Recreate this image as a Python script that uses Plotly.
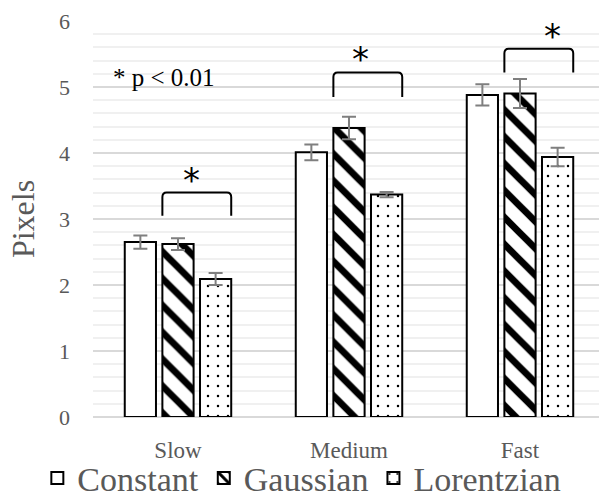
import plotly.graph_objects as go

categories = ["Slow", "Medium", "Fast"]
series_names = ["Constant", "Gaussian", "Lorentzian"]
constant = [2.65, 4.01, 4.88]
gaussian = [2.62, 4.38, 4.90]
lorentzian = [2.09, 3.37, 3.94]
constant_err = [0.10, 0.12, 0.16]
gaussian_err = [0.09, 0.17, 0.22]
lorentzian_err = [0.09, 0.04, 0.14]
bracket_top = [3.40, 5.22, 5.58]
bracket_bottom = [3.05, 4.85, 5.22]
star_dx = [0.08, 0.065, 0.19]
y_ticks = [0, 1, 2, 3, 4, 5, 6]

BARGAP = 0.34
BARGROUPGAP = 0.17
SERIF = "Liberation Serif"
GRAY = "#595959"

xs = list(range(len(categories)))
patterns = [
    dict(shape=""),
    dict(shape="\\", fgcolor="black", bgcolor="white", fgopacity=1, size=19, solidity=0.36, fillmode="replace"),
    dict(shape=".", fgcolor="black", bgcolor="white", fgopacity=1, size=10, solidity=0.05, fillmode="replace"),
]
vals = [constant, gaussian, lorentzian]
errs = [constant_err, gaussian_err, lorentzian_err]

fig = go.Figure()
for name, v, e, p in zip(series_names, vals, errs, patterns):
    fig.add_trace(go.Bar(
        x=xs, y=v, name=name,
        marker=dict(color="white", line=dict(color="black", width=2), pattern=p),
        error_y=dict(type="data", array=e, color="#7f7f7f", thickness=2, width=7),
    ))

# bracket geometry derived from bar layout
slot = (1 - BARGAP) / len(series_names)
half_bar = slot * (1 - BARGROUPGAP) / 2
rx, ry = 0.025, 0.07
for i, x in enumerate(xs):
    x0 = x - half_bar
    x1 = x + slot + half_bar
    yt, yb = bracket_top[i], bracket_bottom[i]
    path = (f"M {x0},{yb} L {x0},{yt-ry} Q {x0},{yt} {x0+rx},{yt} "
            f"L {x1-rx},{yt} Q {x1},{yt} {x1},{yt-ry} L {x1},{yb}")
    fig.add_shape(type="path", path=path, xref="x", yref="y",
                  line=dict(color="black", width=2))
    fig.add_annotation(x=x + star_dx[i], y=yt, xref="x", yref="y",
                       text="*", showarrow=False, yanchor="bottom", yshift=-9,
                       font=dict(family="DejaVu Sans", size=34, color="black"))

fig.add_annotation(x=0.035, y=5.15, xref="paper", yref="y", text="* p < 0.01",
                   showarrow=False, xanchor="left", yanchor="middle",
                   font=dict(family=SERIF, size=25, color="black"))

fig.update_layout(
    width=599, height=497,
    margin=dict(l=93, r=0, t=21, b=80, autoexpand=False),
    barmode="group", bargap=BARGAP, bargroupgap=BARGROUPGAP,
    plot_bgcolor="white", paper_bgcolor="white",
    font=dict(family=SERIF, color=GRAY),
    showlegend=True,
    legend=dict(orientation="h", xref="paper", yref="paper",
                x=-0.11, y=-0.155, xanchor="left", yanchor="middle",
                bgcolor="rgba(0,0,0,0)",
                font=dict(family=SERIF, size=34, color=GRAY),
                itemwidth=30, tracegroupgap=0),
)
fig.update_xaxes(
    tickvals=xs, ticktext=categories, range=[-0.497, 2.462],
    showgrid=False, zeroline=False, showline=False,
    tickfont=dict(family=SERIF, size=23, color=GRAY),
    ticks="", ticklabelstandoff=17,
)
fig.update_yaxes(
    range=[0, 6], tickvals=y_ticks,
    showgrid=True, gridcolor="#d9d9d9", gridwidth=1.5,
    zeroline=True, zerolinecolor="#d9d9d9", zerolinewidth=1.5,
    minor=dict(dtick=0.2, showgrid=True, gridcolor="#f0f0f0", gridwidth=1.5),
    showline=False,
    tickfont=dict(family=SERIF, size=22, color=GRAY),
    ticklabelstandoff=22,
    title=dict(text="Pixels", font=dict(family=SERIF, size=32, color=GRAY), standoff=14),
)

fig.write_html("out.html")
